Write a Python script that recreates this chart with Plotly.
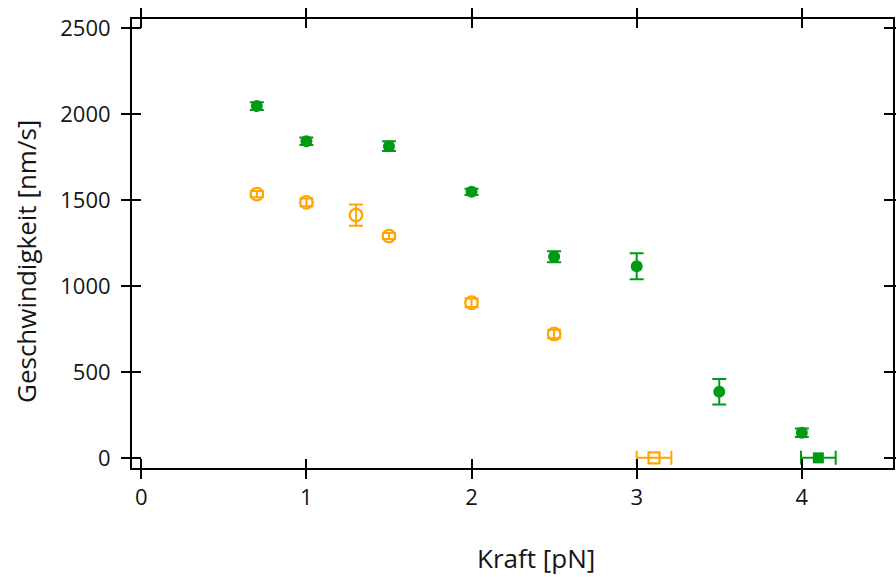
import plotly.graph_objects as go

# Velocity vs. force measurements
green_force = [0.7, 1.0, 1.5, 2.0, 2.5, 3.0, 3.5, 4.0]
green_speed = [2047, 1843, 1814, 1548, 1170, 1115, 385, 146]
green_err = [22, 22, 28, 18, 32, 76, 74, 25]

orange_force = [0.7, 1.0, 1.3, 1.5, 2.0, 2.5]
orange_speed = [1535, 1487, 1413, 1291, 903, 721]
orange_err = [18, 22, 62, 18, 25, 25]

# Stall points (zero velocity) with force uncertainty
green_stall_force = [4.1]
green_stall_speed = [0]
green_stall_ferr = [0.105]

orange_stall_force = [3.105]
orange_stall_speed = [0]
orange_stall_ferr = [0.105]

x_ticks = [0, 1, 2, 3, 4]
y_ticks = [0, 500, 1000, 1500, 2000, 2500]

GREEN = "rgb(0,155,20)"
ORANGE = "rgb(255,165,0)"
FONT = "Open Sans"
TEXT = "#151515"

fig = go.Figure()

fig.add_trace(go.Scatter(
    x=orange_force, y=orange_speed, mode="markers",
    marker=dict(symbol="circle-open", size=12.5, color=ORANGE, line=dict(width=2.3)),
    error_y=dict(type="data", array=orange_err, color=ORANGE, thickness=2, width=7),
    showlegend=False))

fig.add_trace(go.Scatter(
    x=green_force, y=green_speed, mode="markers",
    marker=dict(symbol="circle", size=12, color=GREEN),
    error_y=dict(type="data", array=green_err, color=GREEN, thickness=2, width=7),
    showlegend=False))

fig.add_trace(go.Scatter(
    x=orange_stall_force, y=orange_stall_speed, mode="markers",
    marker=dict(symbol="square-open", size=11, color=ORANGE, line=dict(width=2.2)),
    error_x=dict(type="data", array=orange_stall_ferr, color=ORANGE, thickness=2, width=7),
    showlegend=False))

fig.add_trace(go.Scatter(
    x=green_stall_force, y=green_stall_speed, mode="markers",
    marker=dict(symbol="square", size=11, color=GREEN),
    error_x=dict(type="data", array=green_stall_ferr, color=GREEN, thickness=2, width=7),
    showlegend=False))

# empty trace so the overlay axes (inner tick halves) get drawn
fig.add_trace(go.Scatter(x=[None], y=[None], xaxis="x2", yaxis="y2", showlegend=False))

x_range = [-0.056, 4.552]
y_range = [-59, 2554]

common = dict(showgrid=False, zeroline=False, linecolor="black", linewidth=2,
              tickcolor="black", tickwidth=2, ticklen=9, mirror="ticks",
              automargin=False, tickfont=dict(size=22, family=FONT, color=TEXT))

fig.update_layout(
    width=896, height=577,
    margin=dict(l=132, r=3, t=19, b=109),
    paper_bgcolor="white", plot_bgcolor="white",
    font=dict(family=FONT, size=22, color=TEXT),
    xaxis=dict(range=x_range, tickvals=x_ticks, ticks="outside", **common),
    yaxis=dict(range=y_range, tickvals=y_ticks, ticks="outside",
               ticklabelstandoff=6, **common),
    xaxis2=dict(range=x_range, tickvals=x_ticks, ticks="inside", overlaying="x",
                showticklabels=False, **common),
    yaxis2=dict(range=y_range, tickvals=y_ticks, ticks="inside", overlaying="y",
                showticklabels=False, **common),
    annotations=[
        dict(text="Kraft [pN]", xref="paper", yref="paper",
             x=(536 - 132) / (896 - 135), y=-(558 - 468) / (577 - 128),
             showarrow=False, font=dict(size=26, family=FONT, color=TEXT),
             xanchor="center", yanchor="middle"),
        dict(text="Geschwindigkeit [nm/s]", xref="paper", yref="paper",
             x=-(132 - 26) / (896 - 135), y=(468 - 262) / (577 - 128),
             textangle=-90, showarrow=False, font=dict(size=26, family=FONT, color=TEXT),
             xanchor="center", yanchor="middle"),
    ],
)

fig.write_html("out.html")
